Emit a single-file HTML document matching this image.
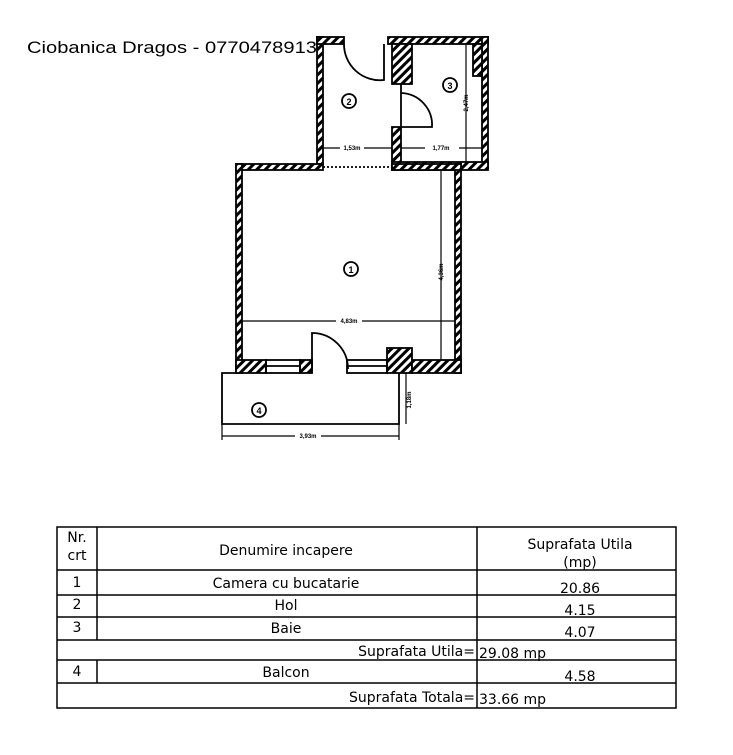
<!DOCTYPE html>
<html><head><meta charset="utf-8"><style>
body{margin:0;background:#fff;width:733px;height:750px;overflow:hidden;font-family:"Liberation Sans",sans-serif}
</style></head><body>
<svg width="733" height="750" viewBox="0 0 733 750" xmlns="http://www.w3.org/2000/svg">
<defs>
<pattern id="h" width="6" height="6" patternUnits="userSpaceOnUse" patternTransform="rotate(45)">
<rect width="6" height="6" fill="#fff"/><rect width="3" height="6" fill="#000"/></pattern>
</defs>
<text x="27" y="53" font-size="17" font-family="Liberation Sans" textLength="290" lengthAdjust="spacingAndGlyphs">Ciobanica Dragos - 0770478913</text>
<g stroke="#000" stroke-width="1.8">
<rect x="317" y="37" width="6" height="127" fill="url(#h)"/>
<rect x="317" y="37" width="27" height="7" fill="url(#h)"/>
<rect x="388" y="37" width="100" height="7" fill="url(#h)"/>
<rect x="482" y="37" width="6" height="131" fill="url(#h)"/>
<rect x="473" y="44" width="9" height="32" fill="url(#h)"/>
<rect x="392" y="44" width="20" height="40" fill="url(#h)"/>
<rect x="392" y="127" width="9" height="41" fill="url(#h)"/>
<rect x="392" y="162" width="96" height="8" fill="url(#h)"/>
<rect x="236" y="164" width="87" height="6" fill="url(#h)"/>
<rect x="236" y="164" width="6" height="209" fill="url(#h)"/>
<rect x="455" y="164" width="6" height="209" fill="url(#h)"/>
<rect x="392" y="164" width="69" height="6" fill="url(#h)"/>
<rect x="236" y="360" width="30" height="13" fill="url(#h)"/>
<rect x="300" y="360" width="12" height="13" fill="url(#h)"/>
<rect x="387" y="348" width="25" height="25" fill="url(#h)"/>
<rect x="412" y="360" width="49" height="13" fill="url(#h)"/>
</g>
<g stroke="#000" fill="none" stroke-width="1.8">
<rect x="266" y="360" width="34" height="13"/><line x1="266" y1="366" x2="300" y2="366"/>
<rect x="347" y="360" width="40" height="13"/><line x1="347" y1="366" x2="387" y2="366"/>
<path d="M312 373 V333 A36 36 0 0 1 348 369"/>
<path d="M344 44 A36 36 0 0 0 384 80 V44"/>
<path d="M401 84 V127 H432 A32 32 0 0 0 401 93"/>
<line x1="323" y1="167" x2="392" y2="167" stroke-dasharray="2 2"/>
<path d="M236 373 H222 V424 H399 V373"/>
<line x1="242" y1="321" x2="455" y2="321" stroke-width="1.2"/>
<line x1="441" y1="170" x2="441" y2="360" stroke-width="1.2"/>
<line x1="323" y1="148" x2="392" y2="148" stroke-width="1.2"/>
<line x1="401" y1="148" x2="482" y2="148" stroke-width="1.2"/>
<line x1="466" y1="44" x2="466" y2="162" stroke-width="1.2"/>
<line x1="406" y1="373" x2="406" y2="424" stroke-width="1.2"/>
<line x1="222" y1="436" x2="399" y2="436" stroke-width="1.2"/>
<line x1="399" y1="424" x2="399" y2="440" stroke-width="1.2"/>
<line x1="222" y1="424" x2="222" y2="440" stroke-width="1.2"/>
<circle cx="351" cy="269" r="7"/><circle cx="349" cy="101" r="7"/><circle cx="450" cy="85" r="7"/><circle cx="259" cy="410" r="7"/>
</g>
<g font-size="9" font-weight="bold" text-anchor="middle" font-family="Liberation Sans">
<text x="351" y="273">1</text><text x="349" y="105">2</text><text x="450" y="89">3</text><text x="259" y="414">4</text>
</g>
<g font-size="6" font-weight="bold" font-family="Liberation Sans" text-anchor="middle">
<rect x="336" y="317" width="26" height="7" fill="#fff"/><text x="349" y="323">4,83m</text>
<rect x="340" y="144" width="24" height="7" fill="#fff"/><text x="352" y="150">1,53m</text>
<rect x="425" y="144" width="34" height="7" fill="#fff"/><text x="441" y="150">1,77m</text>
<rect x="295" y="432" width="26" height="7" fill="#fff"/><text x="308" y="438">3,93m</text>
<text transform="translate(443 272) rotate(-90)">4,36m</text>
<text transform="translate(468 103) rotate(-90)">2,47m</text>
<text transform="translate(411 400) rotate(-90)">1,18m</text>
</g>
<g stroke="#000" stroke-width="1.5" fill="none">
<rect x="57" y="527" width="619" height="181"/>
<line x1="97" y1="527" x2="97" y2="640"/><line x1="97" y1="660" x2="97" y2="683"/>
<line x1="477" y1="527" x2="477" y2="708"/>
<line x1="57" y1="570" x2="676" y2="570"/>
<line x1="57" y1="595" x2="676" y2="595"/>
<line x1="57" y1="617" x2="676" y2="617"/>
<line x1="57" y1="640" x2="676" y2="640"/>
<line x1="57" y1="660" x2="676" y2="660"/>
<line x1="57" y1="683" x2="676" y2="683"/>
</g>
<g font-size="14" font-family="DejaVu Sans" text-anchor="middle">
<text x="77" y="542">Nr.</text><text x="77" y="560">crt</text>
<text x="286" y="555">Denumire incapere</text>
<text x="580" y="549">Suprafata Utila</text><text x="580" y="567">(mp)</text>
<text x="77" y="587">1</text><text x="286" y="588">Camera cu bucatarie</text><text x="580" y="593">20.86</text>
<text x="77" y="609">2</text><text x="286" y="610">Hol</text><text x="580" y="615">4.15</text>
<text x="77" y="632">3</text><text x="286" y="633">Baie</text><text x="580" y="637">4.07</text>
<text x="77" y="676">4</text><text x="286" y="677">Balcon</text><text x="580" y="681">4.58</text>
<text x="475" y="656" text-anchor="end">Suprafata Utila=</text><text x="479" y="658" text-anchor="start">29.08 mp</text>
<text x="475" y="702" text-anchor="end">Suprafata Totala=</text><text x="479" y="704" text-anchor="start">33.66 mp</text>
</g>
</svg>
</body></html>
